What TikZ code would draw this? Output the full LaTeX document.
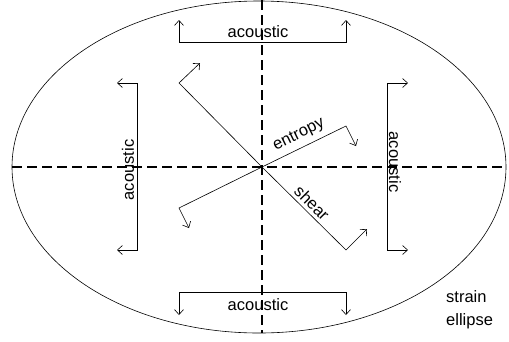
\documentclass[tikz,border=0pt]{standalone}
\usepackage{fontspec}
\setmainfont{Liberation Sans}
\usepackage{tikz}
\usetikzlibrary{arrows.meta}

\tikzset{
  axisline/.style={line width=1.4pt, dash pattern=on 10pt off 5pt},
  mode/.style={line width=0.6pt, {Straight Barb[length=5pt,width=9pt]}-{Straight Barb[length=5pt,width=9pt]}},
  lbl/.style={font=\fontsize{16.5}{20}\selectfont, inner sep=1pt}
}

\begin{document}
\begin{tikzpicture}[x=1pt, y=-1pt]
\useasboundingbox (0,0) rectangle (509,341);

\coordinate (O) at (262,167);

% strain ellipse
\draw[line width=0.6pt] (259,167) ellipse [x radius=247, y radius=166];

% axes
\draw[axisline] (12,167) -- (506,167);
\draw[axisline] (262,0) -- (262,333);

% acoustic modes
\draw[mode] (179,20) -- (179,42) -- (346,42) -- (346,20);
\draw[mode] (179,315) -- (179,292) -- (346,292) -- (346,315);
\draw[mode] (117,83) -- (137,83) -- (137,250) -- (117,250);
\draw[mode] (408,83) -- (387,83) -- (387,250) -- (408,250);

% shear and entropy modes
\draw[mode] (200,63) -- (179,83) -- (O) -- (346,250) -- (367,229);
\draw[mode] (189,228) -- (179,208) -- (O) -- (346,126) -- (356,146);

\node[lbl] (acT) at (258,32) {acoustic};
\node[lbl] (acB) at (258,305) {acoustic};
\node[lbl, rotate=90] (acL) at (128,170) {acoustic};
\node[lbl, rotate=-90] (acR) at (395,162) {acoustic};
\node[lbl, rotate=26] (ent) at (299,135) {entropy};
\node[lbl, rotate=-45] (sh) at (312,203) {shear};
\node[lbl, anchor=west] (st) at (445,297) {strain};
\node[lbl, anchor=west] (el) at (445,321) {ellipse};
\end{tikzpicture}
\end{document}
